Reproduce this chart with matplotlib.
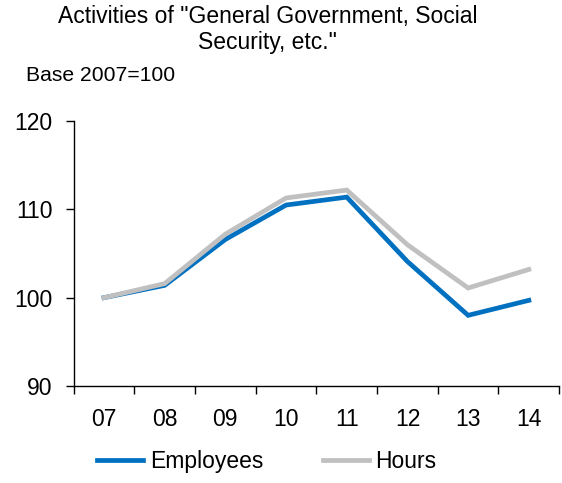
import matplotlib.pyplot as plt
import numpy as np

plt.rcParams["font.family"] = ["Liberation Sans", "DejaVu Sans"]

years = ["07", "08", "09", "10", "11", "12", "13", "14"]
employees = [100.0, 101.4, 106.6, 110.5, 111.4, 104.1, 98.0, 99.7]
hours = [100.0, 101.6, 107.2, 111.3, 112.2, 106.0, 101.1, 103.2]

fig = plt.figure(figsize=(5.62, 4.83), dpi=100)
ax = fig.add_axes([0.131, 0.201, 0.864, 0.548])

x = np.arange(len(years))
ax.plot(x, employees, color="#0070C0", lw=3.4, label="Employees", solid_joinstyle="miter")
ax.plot(x, hours, color="#C0C0C0", lw=3.4, label="Hours", solid_joinstyle="miter")

ax.set_xlim(-0.5, len(years) - 0.5)
ax.set_ylim(90, 120)
ax.set_yticks([90, 100, 110, 120])

# tick marks sit between categories, labels in the middle
ax.set_xticks(np.arange(-0.5, len(years), 1))
ax.set_xticklabels([])
ax.set_xticks(x, years, minor=True)
ax.tick_params(axis="x", which="minor", length=0, pad=16, labelsize=16.5)
ax.tick_params(axis="x", which="major", length=6, width=1, direction="out")
ax.tick_params(axis="y", length=6, width=1, pad=9, labelsize=16.5)

for side in ["top", "right"]:
    ax.spines[side].set_visible(False)
for side in ["left", "bottom"]:
    ax.spines[side].set_linewidth(1)

fig.text(0.476, 0.939, 'Activities of "General Government, Social\nSecurity, etc."',
         ha="center", va="center", fontsize=16.5, linespacing=1.12)
fig.text(0.047, 0.843, "Base 2007=100", ha="left", va="center", fontsize=15.2)

ax.legend(loc="center", bbox_to_anchor=(0.398, -0.285), ncol=2, frameon=False,
          fontsize=16.5, handlelength=2.0, handletextpad=0.3, columnspacing=2.6)

fig.savefig("out.png", dpi=100)
